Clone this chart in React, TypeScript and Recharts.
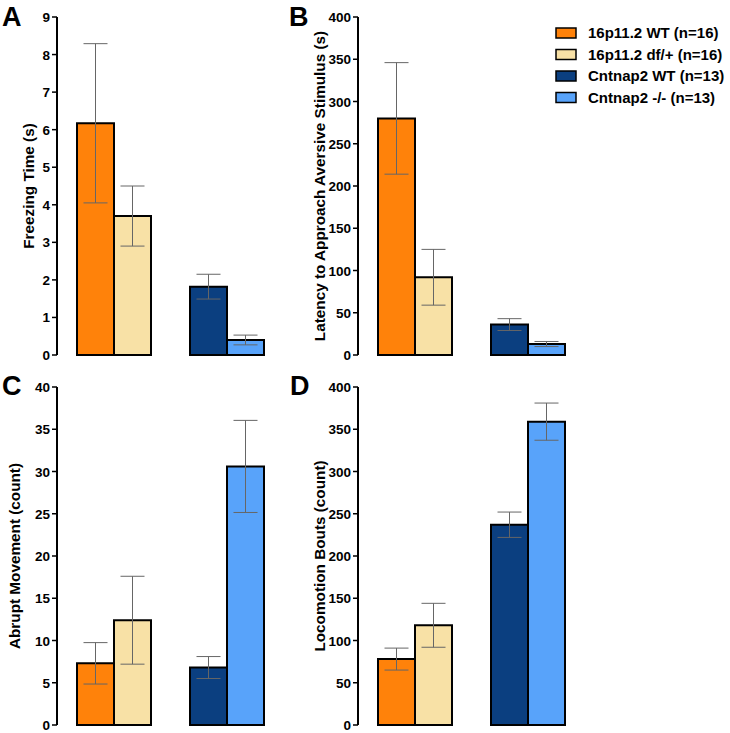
import { Bar, BarChart, Cell, ErrorBar, XAxis, YAxis } from "recharts";

const groups = ["16p11.2", "Cntnap2"];
const seriesNames = ["16p11.2 WT (n=16)", "16p11.2 df/+ (n=16)", "Cntnap2 WT (n=13)", "Cntnap2 -/- (n=13)"];
const colors = ["#FF820A", "#F8E1A6", "#0B3F80", "#58A3FA"];

const freezingMean = [6.17, 3.7, 1.82, 0.4];
const freezingSem = [2.12, 0.8, 0.33, 0.13];
const freezingTicks = [0, 1, 2, 3, 4, 5, 6, 7, 8, 9];

const latencyMean = [280, 92, 36, 13];
const latencySem = [66, 33, 7, 3];
const latencyTicks = [0, 50, 100, 150, 200, 250, 300, 350, 400];

const abruptMean = [7.3, 12.4, 6.8, 30.6];
const abruptSem = [2.45, 5.2, 1.3, 5.45];
const abruptTicks = [0, 5, 10, 15, 20, 25, 30, 35, 40];

const locoMean = [78, 118, 237, 359];
const locoSem = [13, 26, 15, 22];
const locoTicks = [0, 50, 100, 150, 200, 250, 300, 350, 400];

const FONT = "'Liberation Sans', Arial, sans-serif";

function toRows(mean: number[], sem: number[]) {
  return groups.map((g, i) => ({
    group: g,
    a: mean[i * 2],
    b: mean[i * 2 + 1],
    aErr: sem[i * 2],
    bErr: sem[i * 2 + 1],
  }));
}

function TickLabel(props: any) {
  const { x, y, payload } = props;
  return (
    <text
      x={x}
      y={y}
      dy={5}
      textAnchor="end"
      fill="#000"
      style={{ fontFamily: FONT, fontWeight: "bold", fontSize: 13.5 }}
    >
      {payload.value}
    </text>
  );
}

function Panel({
  left,
  top,
  axisW,
  mean,
  sem,
  ticks,
}: {
  left: number;
  top: number;
  axisW: number;
  mean: number[];
  sem: number[];
  ticks: number[];
}) {
  const data = toRows(mean, sem);
  return (
    <div style={{ position: "absolute", left, top }}>
      <BarChart
        width={290}
        height={366}
        data={data}
        margin={{ top: 17, right: 290 - axisW - 226, bottom: 11, left: 0 }}
        barGap={0}
        barSize={37}
      >
        <XAxis
          dataKey="group"
          tick={false}
          tickLine={false}
          height={0}
          axisLine={{ stroke: "#000", strokeWidth: 2 }}
        />
        <YAxis
          type="number"
          width={axisW}
          domain={[0, ticks[ticks.length - 1]]}
          ticks={ticks}
          interval={0}
          tickSize={5}
          tickMargin={2}
          axisLine={{ stroke: "#000", strokeWidth: 2 }}
          tickLine={{ stroke: "#000", strokeWidth: 1.5 }}
          tick={<TickLabel />}
        />
        <Bar dataKey="a" stroke="#000" strokeWidth={2} isAnimationActive={false}>
          {data.map((_, i) => (
            <Cell key={i} fill={colors[i * 2]} />
          ))}
          <ErrorBar dataKey="aErr" width={12} stroke="#666" strokeWidth={1} />
        </Bar>
        <Bar dataKey="b" stroke="#000" strokeWidth={2} isAnimationActive={false}>
          {data.map((_, i) => (
            <Cell key={i} fill={colors[i * 2 + 1]} />
          ))}
          <ErrorBar dataKey="bErr" width={12} stroke="#666" strokeWidth={1} />
        </Bar>
      </BarChart>
    </div>
  );
}

export default function App() {
  const titleStyle = { fontFamily: FONT, fontWeight: "bold" as const, fontSize: 15.3, fill: "#000" };
  const letterStyle = { fontFamily: FONT, fontWeight: "bold" as const, fontSize: 27, fill: "#000" };
  return (
    <div style={{ position: "absolute", left: 0, top: 0, width: 730, height: 733, background: "#fff" }}>
      <Panel left={0} top={0} axisW={57} mean={freezingMean} sem={freezingSem} ticks={freezingTicks} />
      <Panel left={300} top={0} axisW={58} mean={latencyMean} sem={latencySem} ticks={latencyTicks} />
      <Panel left={0} top={370} axisW={57} mean={abruptMean} sem={abruptSem} ticks={abruptTicks} />
      <Panel left={300} top={370} axisW={58} mean={locoMean} sem={locoSem} ticks={locoTicks} />
      <svg
        width={730}
        height={733}
        style={{ position: "absolute", left: 0, top: 0, pointerEvents: "none" }}
      >
        <text x={2} y={26} style={letterStyle}>A</text>
        <text x={289} y={26} style={letterStyle}>B</text>
        <text x={2} y={395} style={letterStyle}>C</text>
        <text x={290} y={395} style={letterStyle}>D</text>

        <text x={34} y={186} textAnchor="middle" transform="rotate(-90, 34, 186)" style={titleStyle}>
          Freezing Time (s)
        </text>
        <text x={325} y={186} textAnchor="middle" transform="rotate(-90, 325, 186)" style={titleStyle}>
          Latency to Approach Aversive Stimulus (s)
        </text>
        <text x={20} y={556} textAnchor="middle" transform="rotate(-90, 20, 556)" style={titleStyle}>
          Abrupt Movement (count)
        </text>
        <text x={325} y={556} textAnchor="middle" transform="rotate(-90, 325, 556)" style={titleStyle}>
          Locomotion Bouts (count)
        </text>

        {seriesNames.map((name, i) => {
          const cy = 33 + i * 21.5;
          return (
            <g key={name}>
              <rect x={556} y={cy - 5} width={20} height={10} fill={colors[i]} stroke="#000" strokeWidth={1.5} />
              <text x={588} y={cy + 5} style={{ fontFamily: FONT, fontWeight: "bold", fontSize: 15, fill: "#000" }}>
                {name}
              </text>
            </g>
          );
        })}
      </svg>
    </div>
  );
}
